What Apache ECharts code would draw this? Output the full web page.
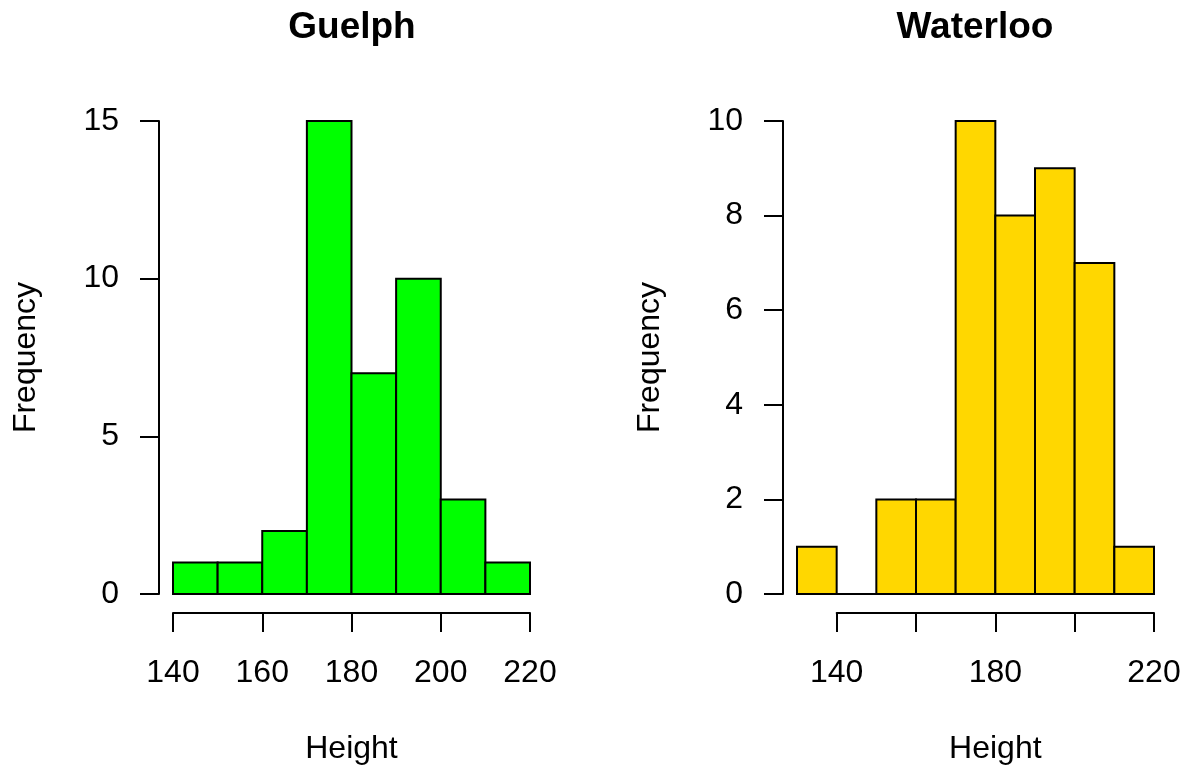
<!DOCTYPE html>
<html>
<head>
<meta charset="utf-8">
<script src="https://cdn.jsdelivr.net/npm/echarts@6/dist/echarts.min.js"></script>
<style>
  html, body { margin: 0; padding: 0; background: #ffffff; }
  #chart { width: 1184px; height: 765px; }
</style>
</head>
<body>
<div id="chart"></div>
<script>
// ---- data ----
const guelphTitle = 'Guelph';
const waterlooTitle = 'Waterloo';
const xAxisTitle = 'Height';
const yAxisTitle = 'Frequency';

const guelphEdges = [140, 150, 160, 170, 180, 190, 200, 210, 220];
const guelphCounts = [1, 1, 2, 15, 7, 10, 3, 1];

const waterlooEdges = [130, 140, 150, 160, 170, 180, 190, 200, 210, 220];
const waterlooCounts = [1, 0, 2, 2, 10, 8, 9, 7, 1];

const guelphXTicks = [140, 160, 180, 200, 220];
const waterlooXTicks = [140, 160, 180, 200, 220];
const waterlooXLabels = [140, 180, 220];

const guelphColor = '#00FF00';
const waterlooColor = '#FFD700';

// ---- build ----
function bins(edges, counts) {
  return counts.map((c, i) => [edges[i], edges[i + 1], c]);
}

const FONT = '"Liberation Sans", Arial, Helvetica, sans-serif';
const AX = 32;

function histRender(color) {
  return function (params, api) {
    const x0 = api.value(0), x1 = api.value(1), c = api.value(2);
    const p0 = api.coord([x0, c]);
    const p1 = api.coord([x1, 0]);
    return {
      type: 'rect',
      shape: { x: p0[0], y: p0[1], width: p1[0] - p0[0], height: p1[1] - p0[1] },
      style: { fill: color, stroke: '#000000', lineWidth: 2 }
    };
  };
}

const axisLineStyle = { show: true, onZero: false, lineStyle: { color: '#000000', width: 2 } };
const tickStyle = { show: true, inside: false, length: 19, lineStyle: { color: '#000000', width: 2 } };

// layout
const gTop = 121, gHeight = 473;
const gLeft = 173, gWidth = 357;
const wLeft = 797, wWidth = 357;
const wMin = waterlooEdges[0], wMax = waterlooEdges[waterlooEdges.length - 1];
const wAxisLeft = wLeft + (waterlooXTicks[0] - wMin) / (wMax - wMin) * wWidth;
const wAxisWidth = wLeft + wWidth - wAxisLeft;

const xLabel = {
  color: '#000', fontSize: AX, fontFamily: FONT, margin: 60, verticalAlign: 'middle'
};
const yLabel = {
  color: '#000', fontSize: AX, fontFamily: FONT, margin: 40, align: 'right', verticalAlign: 'middle'
};
const nameStyleX = { color: '#000', fontSize: AX, fontFamily: FONT, verticalAlign: 'middle', align: 'center' };
const nameStyleY = { color: '#000', fontSize: AX, fontFamily: FONT, verticalAlign: 'middle', align: 'center' };

const gridBase = { containLabel: false, outerBoundsMode: 'none' };

const option = {
  backgroundColor: '#ffffff',
  animation: false,
  title: [
    { text: guelphTitle, left: 352, top: 9, textAlign: 'center', padding: 0,
      textStyle: { fontSize: 37, fontWeight: 'bold', color: '#000', fontFamily: FONT } },
    { text: waterlooTitle, left: 975, top: 9, textAlign: 'center', padding: 0,
      textStyle: { fontSize: 37, fontWeight: 'bold', color: '#000', fontFamily: FONT } }
  ],
  grid: [
    Object.assign({ left: gLeft, width: gWidth, top: gTop, height: gHeight }, gridBase),
    Object.assign({ left: wLeft, width: wWidth, top: gTop, height: gHeight }, gridBase),
    Object.assign({ left: wAxisLeft, width: wAxisWidth, top: gTop, height: gHeight }, gridBase)
  ],
  xAxis: [
    {
      type: 'value', gridIndex: 0,
      min: guelphXTicks[0], max: guelphXTicks[guelphXTicks.length - 1], interval: 20,
      offset: 19,
      axisLine: axisLineStyle, axisTick: tickStyle, splitLine: { show: false },
      axisLabel: xLabel,
      name: xAxisTitle, nameLocation: 'middle', nameGap: 136, nameTextStyle: nameStyleX
    },
    {
      type: 'value', gridIndex: 1, min: wMin, max: wMax, show: false
    },
    {
      type: 'value', gridIndex: 2,
      min: waterlooXTicks[0], max: waterlooXTicks[waterlooXTicks.length - 1], interval: 20,
      offset: 19,
      axisLine: axisLineStyle, axisTick: tickStyle, splitLine: { show: false },
      axisLabel: Object.assign({}, xLabel, {
        formatter: v => (waterlooXLabels.indexOf(v) >= 0 ? String(v) : '')
      }),
      name: xAxisTitle, nameLocation: 'middle', nameGap: 136, nameTextStyle: nameStyleX
    }
  ],
  yAxis: [
    {
      type: 'value', gridIndex: 0, min: 0, max: 15, interval: 5,
      offset: 14,
      axisLine: axisLineStyle, axisTick: tickStyle, splitLine: { show: false },
      axisLabel: yLabel,
      name: yAxisTitle, nameLocation: 'middle', nameGap: 133, nameRotate: 90, nameTextStyle: nameStyleY
    },
    {
      type: 'value', gridIndex: 1, min: 0, max: 10, interval: 2,
      offset: 14,
      axisLine: axisLineStyle, axisTick: tickStyle, splitLine: { show: false },
      axisLabel: yLabel,
      name: yAxisTitle, nameLocation: 'middle', nameGap: 133, nameRotate: 90, nameTextStyle: nameStyleY
    },
    {
      type: 'value', gridIndex: 2, min: 0, max: 10, show: false
    }
  ],
  series: [
    {
      type: 'custom', xAxisIndex: 0, yAxisIndex: 0,
      renderItem: histRender(guelphColor),
      encode: { x: [0, 1], y: 2 },
      data: bins(guelphEdges, guelphCounts)
    },
    {
      type: 'custom', xAxisIndex: 1, yAxisIndex: 1,
      renderItem: histRender(waterlooColor),
      encode: { x: [0, 1], y: 2 },
      data: bins(waterlooEdges, waterlooCounts)
    }
  ]
};

const chart = echarts.init(document.getElementById('chart'), null, { renderer: 'canvas' });
chart.setOption(option);
</script>
</body>
</html>
